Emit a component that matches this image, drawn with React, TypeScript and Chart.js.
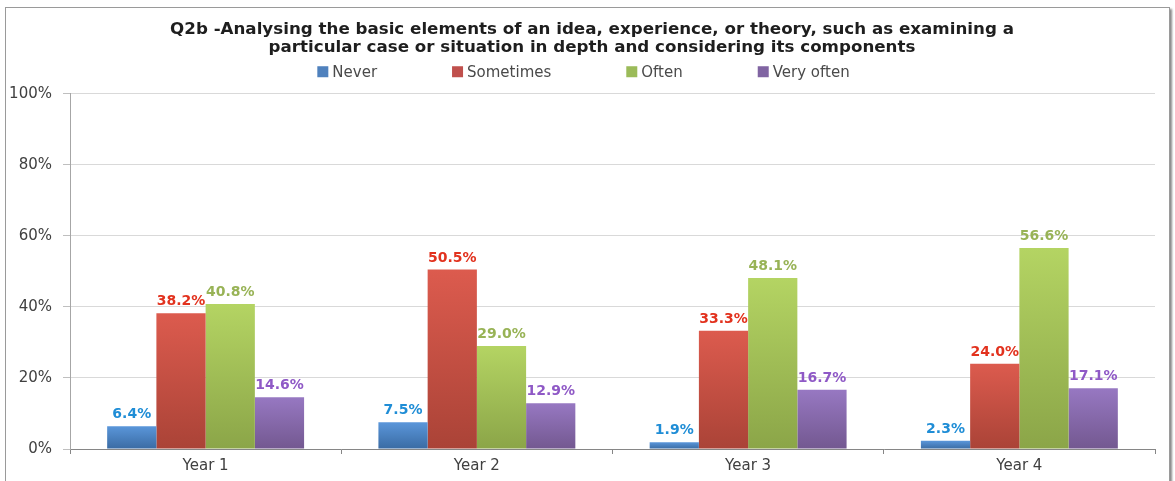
import React, { useEffect, useRef } from 'react';
import { Chart, registerables } from 'chart.js';

Chart.register(...registerables);

const categories = ['Year 1', 'Year 2', 'Year 3', 'Year 4'];
const seriesNames = ['Never', 'Sometimes', 'Often', 'Very often'];
const never = [6.4, 7.5, 1.9, 2.3];
const sometimes = [38.2, 50.5, 33.3, 24.0];
const often = [40.8, 29.0, 48.1, 56.6];
const veryOften = [14.6, 12.9, 16.7, 17.1];
const titleLines = [
  'Q2b -Analysing the basic elements of an idea, experience, or theory, such as examining a',
  'particular case or situation in depth and considering its components',
];
const yMin = 0;
const yMax = 100;
const yStep = 20;

const legendColors = ['#4F81BD', '#C0504D', '#9BBB59', '#8064A2'];
const gradTop = ['#5A96DA', '#DC5B4E', '#B4D463', '#9778C2'];
const gradBottom = ['#3A6BA3', '#AA4337', '#8BA548', '#735890'];
const labelColors = ['#1F8DD6', '#E2321E', '#98B356', '#8F59C6'];

const FONT = '"DejaVu Sans", Verdana, sans-serif';

const titleShiftPlugin = {
  id: 'titleShift',
  afterLayout(chart: any) {
    if (chart.titleBlock) chart.titleBlock.left += 20;
  },
};

const legendPlugin = {
  id: 'customLegend',
  afterDraw(chart: any) {
    const ctx = chart.ctx;
    ctx.save();
    ctx.font = `15px ${FONT}`;
    const box = 11;
    const boxGap = 4;
    const itemGap = 75;
    const widths = seriesNames.map((n) => box + boxGap + ctx.measureText(n).width);
    const total = widths.reduce((a, b) => a + b, 0) + itemGap * (widths.length - 1);
    let x = chart.width / 2 - total / 2 - 4;
    const y = chart.titleBlock.bottom - 22;
    ctx.textBaseline = 'middle';
    ctx.textAlign = 'left';
    seriesNames.forEach((n, i) => {
      ctx.fillStyle = legendColors[i];
      ctx.fillRect(x, y - box / 2, box, box);
      ctx.fillStyle = '#4A4A4A';
      ctx.fillText(n, x + box + boxGap, y + 1);
      x += widths[i] + itemGap;
    });
    ctx.restore();
  },
};

const dataLabelPlugin = {
  id: 'dataLabels',
  afterDatasetsDraw(chart: any) {
    const ctx = chart.ctx;
    ctx.save();
    ctx.font = `bold 14px ${FONT}`;
    ctx.textAlign = 'center';
    ctx.textBaseline = 'alphabetic';
    chart.data.datasets.forEach((ds: any, i: number) => {
      const meta = chart.getDatasetMeta(i);
      ctx.fillStyle = labelColors[i];
      meta.data.forEach((el: any, j: number) => {
        ctx.fillText(Number(ds.data[j]).toFixed(1) + '%', el.x, el.y - 8);
      });
    });
    ctx.restore();
  },
};

function makeGradient(i: number) {
  return (c: any) => {
    const chart = c.chart;
    const scales = chart.scales;
    if (!chart.chartArea || !scales || !scales.y || c.type !== 'data') return legendColors[i];
    const top = scales.y.getPixelForValue(c.raw);
    const bottom = scales.y.getPixelForValue(0);
    if (!isFinite(top) || !isFinite(bottom) || bottom - top < 1) return gradTop[i];
    const g = chart.ctx.createLinearGradient(0, top, 0, bottom);
    g.addColorStop(0, gradTop[i]);
    g.addColorStop(1, gradBottom[i]);
    return g;
  };
}

export default function App() {
  const ref = useRef<HTMLCanvasElement>(null);
  useEffect(() => {
    if (!ref.current) return;
    const allSeries = [never, sometimes, often, veryOften];
    const chart = new Chart(ref.current, {
      type: 'bar',
      data: {
        labels: categories,
        datasets: allSeries.map((d, i) => ({
          label: seriesNames[i],
          data: d,
          backgroundColor: makeGradient(i),
          borderWidth: 0,
          barPercentage: 1,
          categoryPercentage: 0.726,
        })),
      },
      options: {
        responsive: false,
        maintainAspectRatio: false,
        animation: false,
        events: [],
        layout: { padding: { left: 3, right: 14, top: 0, bottom: 0 } },
        plugins: {
          legend: { display: false },
          tooltip: { enabled: false },
          title: {
            display: true,
            text: titleLines,
            color: '#1E1E1E',
            font: { family: FONT, size: 16.7, weight: 'bold', lineHeight: 1.1 },
            padding: { top: 12, bottom: 37 },
          },
        },
        scales: {
          x: {
            grid: {
              offset: true,
              drawOnChartArea: false,
              drawTicks: true,
              tickLength: 5,
              color: '#868686',
            },
            border: { color: '#868686' },
            ticks: { color: '#404040', font: { family: FONT, size: 15 }, padding: 3 },
          },
          y: {
            min: yMin,
            max: yMax,
            afterFit: (s: any) => {
              s.width = 61;
            },
            grid: { color: '#D9D9D9', tickColor: '#BFBFBF', tickLength: 7 },
            border: { color: '#A6A6A6' },
            ticks: {
              stepSize: yStep,
              color: '#404040',
              font: { family: FONT, size: 15 },
              padding: 11,
              callback: (v: any) => v + '%',
            },
          },
        },
      },
      plugins: [titleShiftPlugin, legendPlugin, dataLabelPlugin],
    });
    return () => chart.destroy();
  }, []);

  return (
    <div
      style={{
        position: 'absolute',
        left: 5,
        top: 7,
        width: 1165,
        height: 480,
        boxSizing: 'border-box',
        border: '1px solid #9A9A9A',
        boxShadow: '2px 2px 2px #8a8a8a',
        background: '#fff',
      }}
    >
      <canvas ref={ref} width={1163} height={470} style={{ display: 'block' }} />
    </div>
  );
}
